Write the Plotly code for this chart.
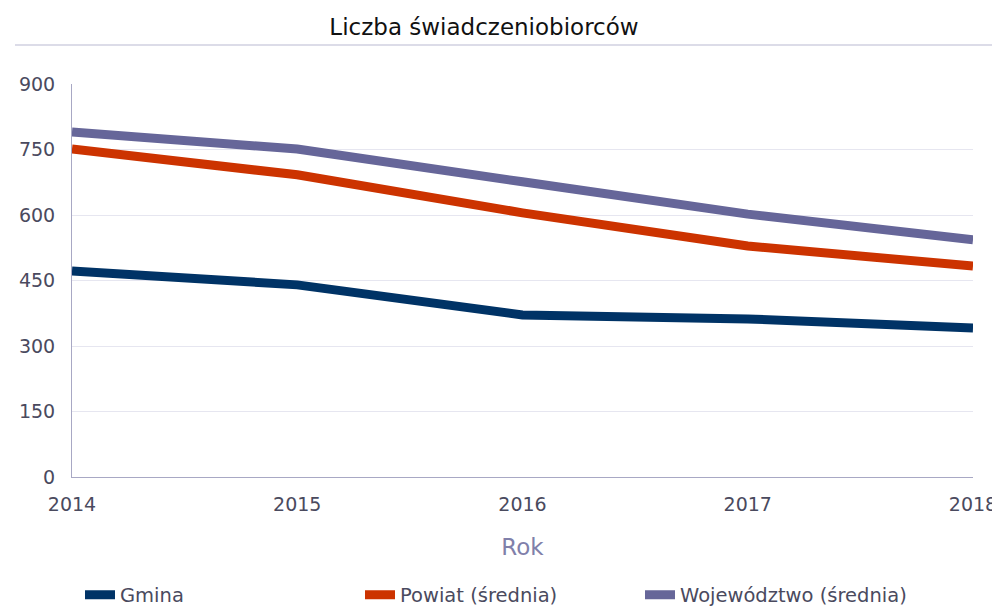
import plotly.graph_objects as go

years = [2014, 2015, 2016, 2017, 2018]
gmina = [472, 440, 371, 362, 341]
powiat = [751, 692, 605, 529, 483]
wojewodztwo = [790, 751, 676, 602, 543]

series_names = ["Gmina", "Powiat (średnia)", "Województwo (średnia)"]
series_values = [gmina, powiat, wojewodztwo]
series_colors = ["#003366", "#cc3300", "#666699"]

y_ticks = [0, 150, 300, 450, 600, 750, 900]
x_ticks = years

TICK_COLOR = "#4a4a5e"
FONT = "DejaVu Sans"

fig = go.Figure()
for name, vals, col in zip(series_names, series_values, series_colors):
    fig.add_trace(go.Scatter(x=years, y=vals, name=name, mode="lines",
                             line=dict(color=col, width=9)))

fig.update_layout(
    width=992, height=613,
    margin=dict(l=72, r=19, t=84, b=136, autoexpand=False),
    paper_bgcolor="white", plot_bgcolor="white",
    title=dict(text="Liczba świadczeniobiorców", font=dict(family=FONT, size=23, color="#111111"),
               x=484/992, xanchor="center", xref="container",
               y=1 - 27/613, yanchor="middle", yref="container"),
    xaxis=dict(range=[2014, 2018], tickvals=x_ticks, ticktext=[str(v) for v in x_ticks],
               showgrid=False, zeroline=False, showline=True, linecolor="#a8a8c4", linewidth=1,
               tickfont=dict(family=FONT, size=19, color=TICK_COLOR), ticklabelstandoff=10,
               ticklabeloverflow="allow",
               title=dict(text="Rok", font=dict(family=FONT, size=23, color="#8080aa"), standoff=25),
               fixedrange=True),
    yaxis=dict(range=[0, 900], tickvals=y_ticks, showgrid=True, gridcolor="#e6e6f0", gridwidth=1,
               zeroline=False, showline=True, linecolor="#a8a8c4", linewidth=1,
               tickfont=dict(family=FONT, size=19, color=TICK_COLOR), ticklabelstandoff=12,
               fixedrange=True),
    legend=dict(orientation="h", x=(80 - 72) / 901, xanchor="left", y=-(595 - 477) / 393, yanchor="middle",
                font=dict(family=FONT, size=19.5, color=TICK_COLOR),
                entrywidth=235, entrywidthmode="pixels", itemclick=False, itemdoubleclick=False),
    showlegend=True,
)

fig.add_shape(type="line", xref="paper", yref="paper",
              x0=(15 - 72) / 901, x1=(992 - 72) / 901, y0=(477 - 45) / 393, y1=(477 - 45) / 393,
              line=dict(color="#dcdce8", width=2))

fig.write_html("out.html", config={"displayModeBar": False},
               post_script="document.body.style.margin='0px';")
